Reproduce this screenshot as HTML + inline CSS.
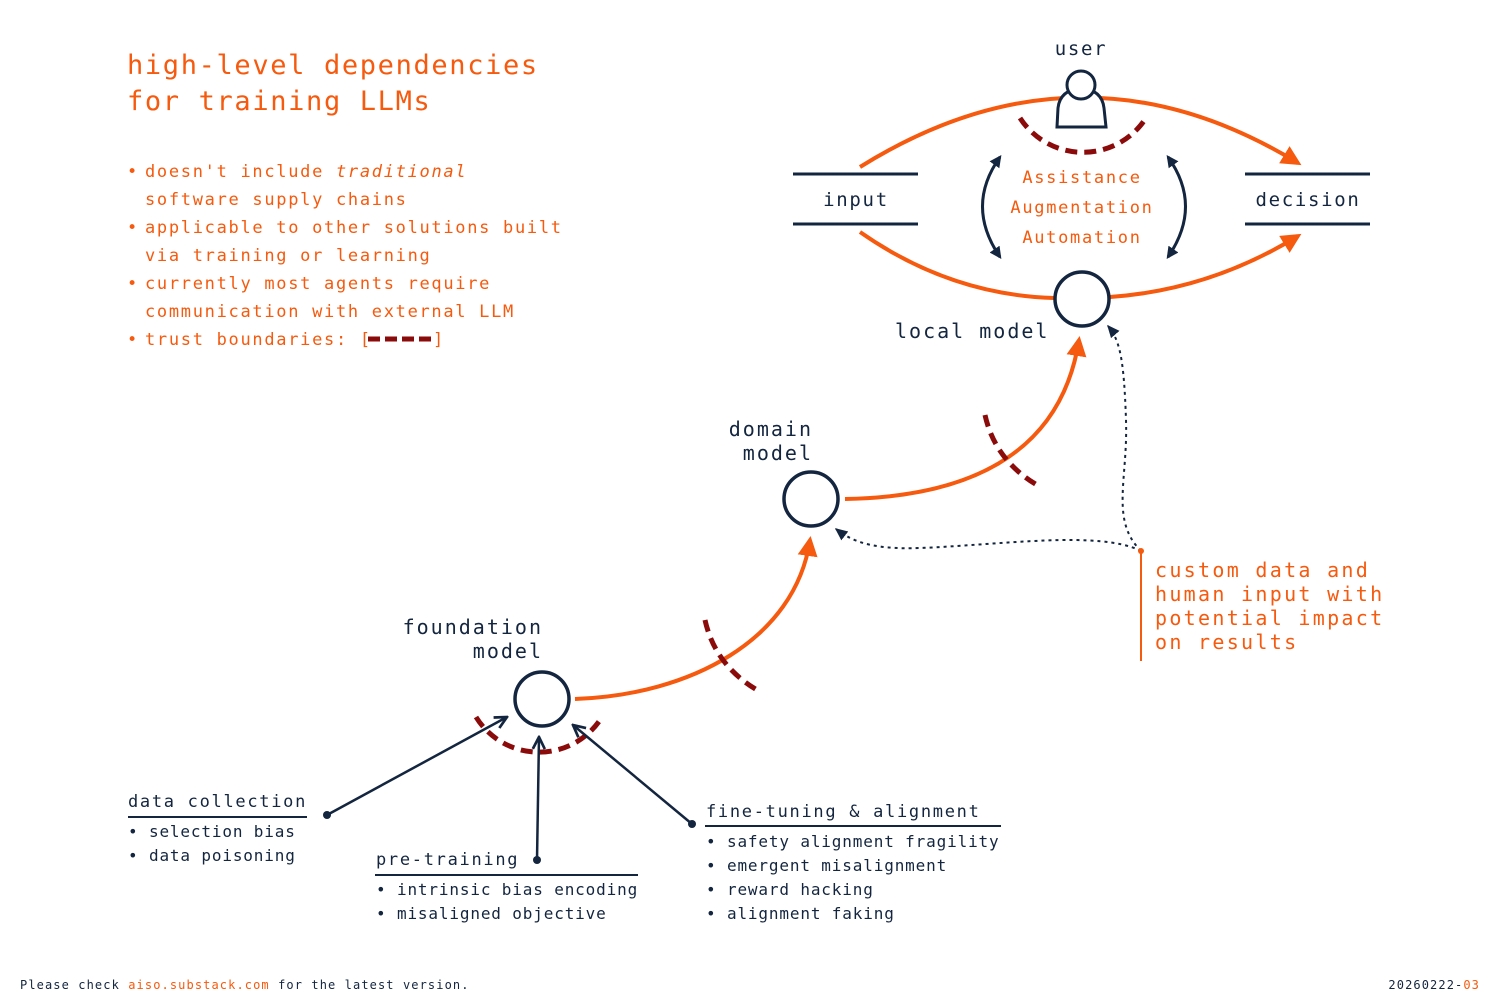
<!DOCTYPE html>
<html><head><meta charset="utf-8"><style>
html,body{margin:0;padding:0;background:#fff;}
svg{display:block;}
text{font-family:"DejaVu Sans Mono","Liberation Mono",monospace;}
.o{fill:#f55a0e;}
.n{fill:#13253f;}
</style></head><body>
<svg width="1500" height="1000" viewBox="0 0 1500 1000" xmlns="http://www.w3.org/2000/svg">
<defs>
<marker id="ao" viewBox="0 0 10 10" refX="8" refY="5" markerWidth="5" markerHeight="5" orient="auto" markerUnits="strokeWidth"><path d="M0 0L10 5L0 10z" fill="#f55a0e"/></marker>
<marker id="an" viewBox="0 0 10 10" refX="9" refY="5" markerWidth="6" markerHeight="6" orient="auto" markerUnits="strokeWidth"><path d="M1 1L9 5L1 9" fill="none" stroke="#13253f" stroke-width="1.8"/></marker>
<marker id="ad" viewBox="0 0 10 10" refX="8" refY="5" markerWidth="7" markerHeight="7" orient="auto" markerUnits="strokeWidth"><path d="M0 1L9 5L0 9z" fill="#13253f"/></marker>
<marker id="aa" viewBox="0 0 10 10" refX="8" refY="5" markerWidth="4" markerHeight="4" orient="auto-start-reverse" markerUnits="strokeWidth"><path d="M0 0L10 5L0 10z" fill="#13253f"/></marker>
</defs>

<text x="127" y="74" font-size="27" letter-spacing="1.65" class="o">high-level dependencies</text>
<text x="127" y="110" font-size="27" letter-spacing="1.65" class="o">for training LLMs</text>

<g font-size="17" letter-spacing="1.7" class="o">
<text x="127" y="177">•</text><text x="145" y="177">doesn't include <tspan font-style="italic">traditional</tspan></text>
<text x="145" y="205">software supply chains</text>
<text x="127" y="233">•</text><text x="145" y="233">applicable to other solutions built</text>
<text x="145" y="261">via training or learning</text>
<text x="127" y="289">•</text><text x="145" y="289">currently most agents require</text>
<text x="145" y="317">communication with external LLM</text>
<text x="127" y="345">•</text><text x="145" y="345">trust boundaries: [</text><text x="433" y="345">]</text>
</g>
<line x1="368" y1="339" x2="436" y2="339" stroke="#8b0a0a" stroke-width="5" stroke-dasharray="12,5"/>

<text x="1081" y="55" font-size="19" letter-spacing="1.7" text-anchor="middle" class="n">user</text>
<line x1="793" y1="174" x2="918" y2="174" stroke="#13253f" stroke-width="3"/>
<line x1="793" y1="224" x2="918" y2="224" stroke="#13253f" stroke-width="3"/>
<line x1="1245" y1="174" x2="1370" y2="174" stroke="#13253f" stroke-width="3"/>
<line x1="1245" y1="224" x2="1370" y2="224" stroke="#13253f" stroke-width="3"/>
<text x="856" y="206" font-size="19" letter-spacing="1.7" text-anchor="middle" class="n">input</text>
<text x="1308" y="206" font-size="19" letter-spacing="1.7" text-anchor="middle" class="n">decision</text>

<path d="M860 167 Q1080 30 1298 163" fill="none" stroke="#f55a0e" stroke-width="4" marker-end="url(#ao)"/>
<path d="M860 232 Q950 295 1054 298" fill="none" stroke="#f55a0e" stroke-width="4"/>
<path d="M1110 297 Q1210 290 1298 236" fill="none" stroke="#f55a0e" stroke-width="4" marker-end="url(#ao)"/>

<path d="M1057 127 L1058 108 Q1060 90 1081 88 Q1102 90 1104 108 L1106 127 Z" fill="#fff" stroke="#13253f" stroke-width="3"/>
<circle cx="1081" cy="85" r="14" fill="#fff" stroke="#13253f" stroke-width="3"/>
<path d="M1020 118 A75 75 0 0 0 1146 118" fill="none" stroke="#8b0a0a" stroke-width="5" stroke-dasharray="12,7"/>

<g font-size="17" letter-spacing="1.7" text-anchor="middle" class="o">
<text x="1082" y="183">Assistance</text>
<text x="1082" y="213">Augmentation</text>
<text x="1082" y="243">Automation</text>
</g>
<path d="M1000 157 Q965 206 1000 257" fill="none" stroke="#13253f" stroke-width="3" marker-start="url(#aa)" marker-end="url(#aa)"/>
<path d="M1168 157 Q1203 206 1168 257" fill="none" stroke="#13253f" stroke-width="3" marker-start="url(#aa)" marker-end="url(#aa)"/>

<circle cx="1082" cy="299" r="27" fill="#fff" stroke="#13253f" stroke-width="3.5"/>
<text x="895" y="338" font-size="20" letter-spacing="2" class="n">local model</text>

<text x="813" y="436" font-size="20" letter-spacing="2" text-anchor="end" class="n">domain</text>
<text x="813" y="460" font-size="20" letter-spacing="2" text-anchor="end" class="n">model</text>
<circle cx="811" cy="499" r="27" fill="#fff" stroke="#13253f" stroke-width="3.5"/>
<path d="M845 499 C960 497 1060 460 1079 340" fill="none" stroke="#f55a0e" stroke-width="4" marker-end="url(#ao)"/>
<path d="M985 415 Q995 460 1037 485" fill="none" stroke="#8b0a0a" stroke-width="5" stroke-dasharray="12,7"/>

<text x="543" y="634" font-size="20" letter-spacing="2" text-anchor="end" class="n">foundation</text>
<text x="543" y="658" font-size="20" letter-spacing="2" text-anchor="end" class="n">model</text>
<circle cx="542" cy="699" r="27" fill="#fff" stroke="#13253f" stroke-width="3.5"/>
<path d="M575 699 C690 695 795 640 810 540" fill="none" stroke="#f55a0e" stroke-width="4" marker-end="url(#ao)"/>
<path d="M705 620 Q715 665 757 690" fill="none" stroke="#8b0a0a" stroke-width="5" stroke-dasharray="12,7"/>
<path d="M476 717 A74 74 0 0 0 602 717" fill="none" stroke="#8b0a0a" stroke-width="5" stroke-dasharray="12,7"/>

<line x1="327" y1="815" x2="507" y2="717" stroke="#13253f" stroke-width="2.5" marker-end="url(#an)"/>
<line x1="537" y1="860" x2="539" y2="737" stroke="#13253f" stroke-width="2.5" marker-end="url(#an)"/>
<line x1="692" y1="824" x2="573" y2="725" stroke="#13253f" stroke-width="2.5" marker-end="url(#an)"/>
<circle cx="327" cy="815" r="4" fill="#13253f"/>
<circle cx="537" cy="860" r="4" fill="#13253f"/>
<circle cx="692" cy="824" r="4" fill="#13253f"/>

<path d="M1141 551 C1110 520 1128 480 1126 420 C1124 360 1120 340 1108 326" fill="none" stroke="#13253f" stroke-width="2" stroke-dasharray="3,4" marker-end="url(#ad)"/>
<path d="M1141 551 C1100 530 1000 545 920 548 C870 550 850 540 836 529" fill="none" stroke="#13253f" stroke-width="2" stroke-dasharray="3,4" marker-end="url(#ad)"/>
<line x1="1141" y1="551" x2="1141" y2="661" stroke="#f55a0e" stroke-width="2"/>
<circle cx="1141" cy="551" r="3" fill="#f55a0e"/>
<g font-size="20" letter-spacing="2.3" class="o">
<text x="1155" y="577">custom data and</text>
<text x="1155" y="601">human input with</text>
<text x="1155" y="625">potential impact</text>
<text x="1155" y="649">on results</text>
</g>

<g class="n">
<text x="128" y="807" font-size="17" letter-spacing="1.7">data collection</text>
<line x1="128" y1="817" x2="307" y2="817" stroke="#13253f" stroke-width="2"/>
<text x="128" y="837" font-size="16" letter-spacing="0.85">• selection bias</text>
<text x="128" y="861" font-size="16" letter-spacing="0.85">• data poisoning</text>

<text x="376" y="865" font-size="17" letter-spacing="1.7">pre-training</text>
<line x1="375" y1="875" x2="638" y2="875" stroke="#13253f" stroke-width="2"/>
<text x="376" y="895" font-size="16" letter-spacing="0.85">• intrinsic bias encoding</text>
<text x="376" y="919" font-size="16" letter-spacing="0.85">• misaligned objective</text>

<text x="706" y="817" font-size="17" letter-spacing="1.7">fine-tuning &amp; alignment</text>
<line x1="705" y1="826" x2="1001" y2="826" stroke="#13253f" stroke-width="2"/>
<text x="706" y="847" font-size="16" letter-spacing="0.85">• safety alignment fragility</text>
<text x="706" y="871" font-size="16" letter-spacing="0.85">• emergent misalignment</text>
<text x="706" y="895" font-size="16" letter-spacing="0.85">• reward hacking</text>
<text x="706" y="919" font-size="16" letter-spacing="0.85">• alignment faking</text>
</g>

<text x="20" y="989" font-size="12" letter-spacing="1.1" class="n">Please check <tspan class="o">aiso.substack.com</tspan> for the latest version.</text>
<text x="1480" y="989" font-size="12" letter-spacing="1.1" text-anchor="end" class="n">20260222-<tspan class="o">03</tspan></text>
</svg>
</body></html>
